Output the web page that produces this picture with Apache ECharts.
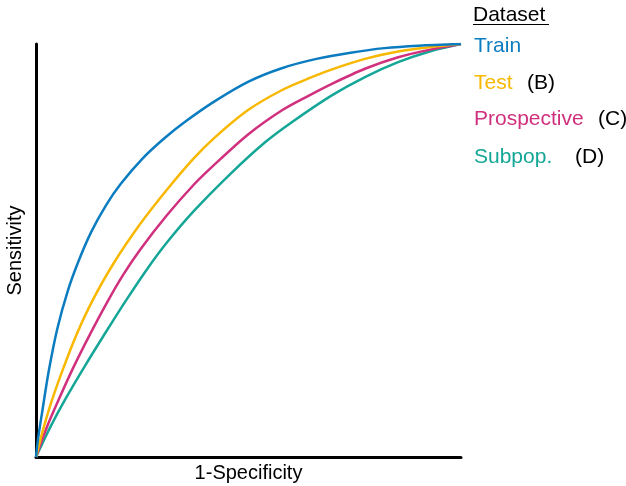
<!DOCTYPE html>
<html>
<head>
<meta charset="utf-8">
<script src="https://cdn.jsdelivr.net/npm/echarts@6/dist/echarts.min.js"></script>
<style>html,body{margin:0;padding:0;background:#fff}#c{width:626px;height:486px}</style>
</head>
<body>
<div id="c"></div>
<script>
const seriesNames = ['Train', 'Test', 'Prospective', 'Subpop.'];
const seriesTags = ['', '(B)', '(C)', '(D)'];
const colors = ['#0b7cc0', '#f9b800', '#d0307d', '#14a697'];
const xLabel = '1-Specificity';
const yLabel = 'Sensitivity';
const legendTitle = 'Dataset';

const train = [[0,0],[0.005,0.045],[0.015,0.112],[0.03,0.208],[0.05,0.310],[0.075,0.403],[0.1,0.474],[0.13,0.545],[0.165,0.610],[0.2,0.662],[0.25,0.722],[0.3,0.770],[0.35,0.811],[0.42,0.861],[0.5,0.909],[0.58,0.942],[0.66,0.964],[0.74,0.979],[0.82,0.990],[0.9,0.996],[1,1]];
const test = [[0,0],[0.018,0.071],[0.037,0.136],[0.065,0.217],[0.096,0.298],[0.132,0.377],[0.182,0.468],[0.245,0.564],[0.307,0.646],[0.370,0.722],[0.421,0.774],[0.499,0.840],[0.578,0.888],[0.640,0.916],[0.695,0.938],[0.774,0.964],[0.852,0.982],[0.930,0.993],[1,1]];
const prospective = [[0,0],[0.025,0.071],[0.053,0.138],[0.088,0.217],[0.127,0.297],[0.167,0.374],[0.205,0.441],[0.245,0.502],[0.307,0.584],[0.370,0.658],[0.421,0.709],[0.499,0.781],[0.578,0.839],[0.640,0.874],[0.695,0.903],[0.774,0.940],[0.852,0.968],[0.930,0.987],[1,1]];
const subpop = [[0,0],[0.033,0.071],[0.069,0.140],[0.116,0.222],[0.166,0.305],[0.213,0.381],[0.260,0.453],[0.307,0.518],[0.370,0.594],[0.460,0.688],[0.539,0.762],[0.601,0.810],[0.695,0.875],[0.774,0.920],[0.852,0.956],[0.930,0.983],[1,1]];
const allData = [train, test, prospective, subpop];

const chart = echarts.init(document.getElementById('c'), null, {renderer: 'canvas'});
const font = '"Liberation Sans", Arial, sans-serif';

const legendY = [45, 82, 118, 156];
const tagX = [0, 527, 598, 575];
const graphics = [
  {type: 'text', left: 473, top: 5, style: {text: legendTitle, font: '21px ' + font, fill: '#000'}},
  {type: 'line', shape: {x1: 473, y1: 24.5, x2: 549, y2: 24.5}, style: {stroke: '#000', lineWidth: 1.2}}
];
seriesNames.forEach((n, i) => {
  graphics.push({type: 'text', x: 474, y: legendY[i] + 1, style: {text: n, font: '21px ' + font, fill: colors[i], textVerticalAlign: 'middle', verticalAlign: 'middle'}});
  if (seriesTags[i]) {
    graphics.push({type: 'text', x: tagX[i], y: legendY[i] + 1, style: {text: seriesTags[i], font: '21px ' + font, fill: '#000', textVerticalAlign: 'middle', verticalAlign: 'middle'}});
  }
});

chart.setOption({
  animation: false,
  grid: {left: 36, right: 165, top: 44, bottom: 29, containLabel: false, outerBoundsMode: 'none'},
  xAxis: {
    type: 'value', min: 0, max: 1,
    name: xLabel, nameLocation: 'middle', nameGap: 6,
    nameTextStyle: {fontSize: 20, fontFamily: font, color: '#000'},
    axisLine: {show: true, onZero: false, lineStyle: {color: '#000', width: 3}},
    axisTick: {show: false}, axisLabel: {show: false}, splitLine: {show: false}
  },
  yAxis: {
    type: 'value', min: 0, max: 1,
    name: yLabel, nameLocation: 'middle', nameGap: 11, nameRotate: 90,
    nameTextStyle: {fontSize: 20, fontFamily: font, color: '#000'},
    axisLine: {show: true, onZero: false, lineStyle: {color: '#000', width: 3}},
    axisTick: {show: false}, axisLabel: {show: false}, splitLine: {show: false}
  },
  graphic: graphics,
  series: allData.map((d, i) => ({
    name: seriesNames[i], type: 'line', data: d, smooth: 0.3,
    showSymbol: false, symbol: 'none', z: 1,
    lineStyle: {color: colors[i], width: 2.5}
  })).reverse()
});
</script>
</body>
</html>
